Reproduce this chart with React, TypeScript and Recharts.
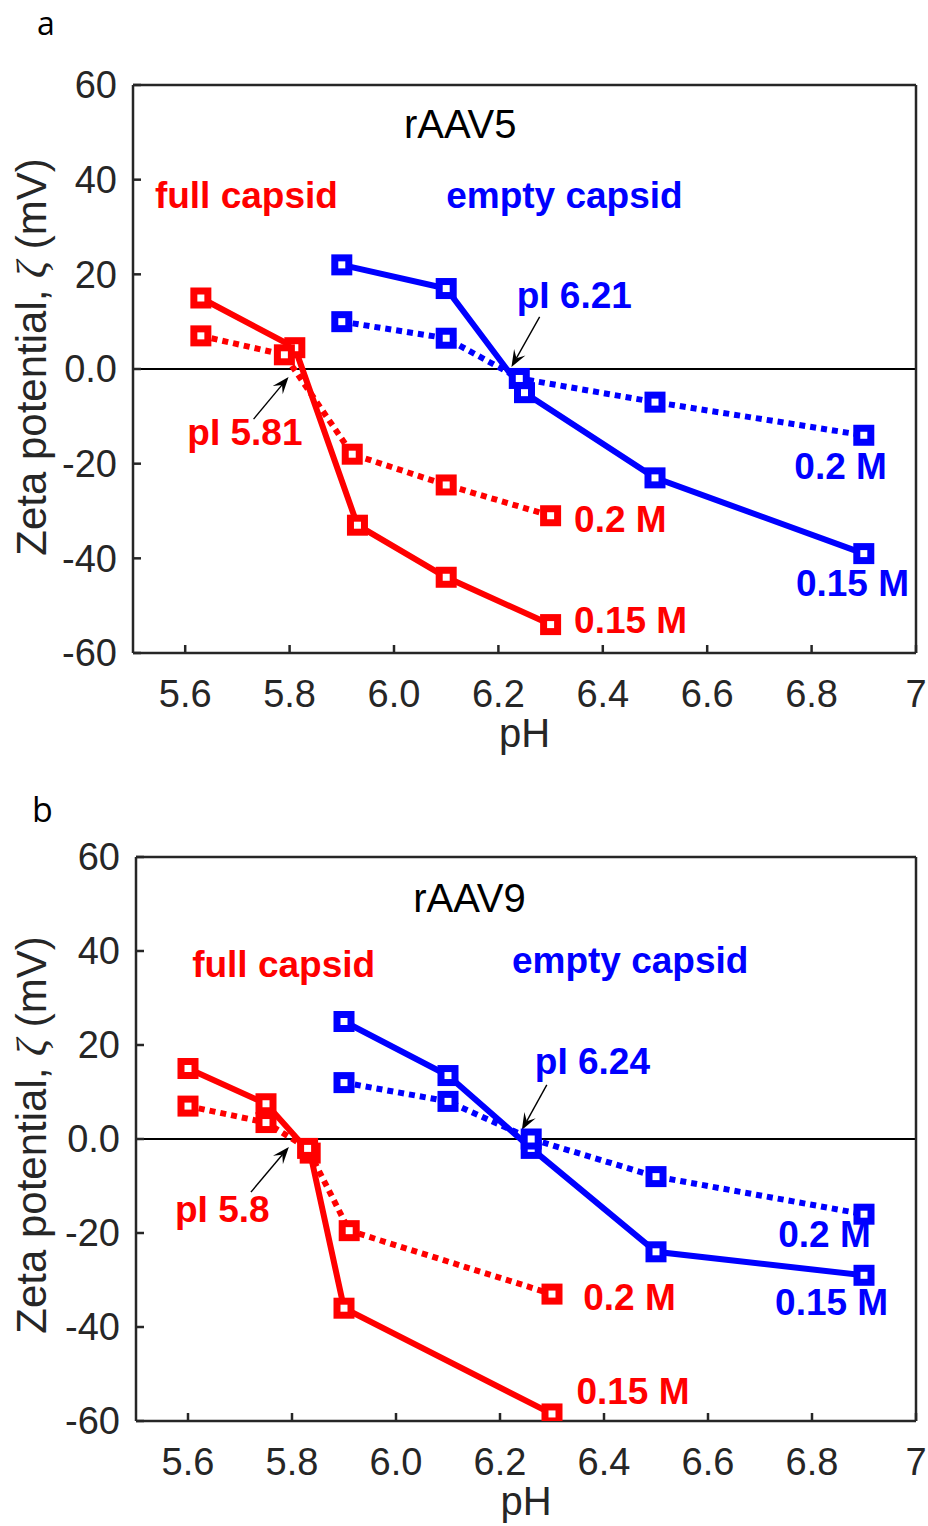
import React from 'react'
import { LineChart, Line, XAxis, YAxis, ReferenceLine, ReferenceDot } from 'recharts'

const RED = '#ff0000'
const BLUE = '#0000ff'
const AXIS = '#262626'
const FONT = '"Liberation Sans", Arial, sans-serif'

const xTicks = [5.6, 5.8, 6.0, 6.2, 6.4, 6.6, 6.8, 7]
const yTicks = [-60, -40, -20, 0, 20, 40, 60]

// panel a, rAAV5
const phA_full015 = [5.63, 5.81, 5.93, 6.1, 6.3]
const zetaA_full015 = [15, 4.5, -33, -44, -54]
const phA_full02 = [5.63, 5.79, 5.92, 6.1, 6.3]
const zetaA_full02 = [7, 3, -18, -24.5, -31]
const phA_empty015 = [5.9, 6.1, 6.25, 6.5, 6.9]
const zetaA_empty015 = [22, 17, -5, -23, -39]
const phA_empty02 = [5.9, 6.1, 6.24, 6.5, 6.9]
const zetaA_empty02 = [10, 6.5, -2, -7, -14]

// panel b, rAAV9
const phB_full015 = [5.6, 5.75, 5.835, 5.9, 6.3]
const zetaB_full015 = [15, 7.5, -3, -36, -58.5]
const phB_full02 = [5.6, 5.75, 5.83, 5.91, 6.3]
const zetaB_full02 = [7, 3.5, -2, -19.5, -33]
const phB_empty015 = [5.9, 6.1, 6.26, 6.5, 6.9]
const zetaB_empty015 = [25, 13.5, -2, -24, -29]
const phB_empty02 = [5.9, 6.1, 6.26, 6.5, 6.9]
const zetaB_empty02 = [12, 8, 0, -8, -16]

// text notes, placed in data coordinates (pH, mV)
const notesA = [
  { text: 'rAAV5', x: 6.019, y: 48.8, color: '#000', bold: false },
  { text: 'full capsid', x: 5.542, y: 34, color: RED, bold: true },
  { text: 'empty capsid', x: 6.1, y: 34, color: BLUE, bold: true },
  { text: 'pI 6.21', x: 6.235, y: 12.9, color: BLUE, bold: true },
  { text: 'pI 5.81', x: 5.604, y: -16.1, color: RED, bold: true },
  { text: '0.2 M', x: 6.345, y: -34.4, color: RED, bold: true },
  { text: '0.15 M', x: 6.345, y: -55.8, color: RED, bold: true },
  { text: '0.2 M', x: 6.767, y: -23.2, color: BLUE, bold: true },
  { text: '0.15 M', x: 6.77, y: -48, color: BLUE, bold: true }
]
const notesB = [
  { text: 'rAAV9', x: 6.033, y: 48.3, color: '#000', bold: false },
  { text: 'full capsid', x: 5.608, y: 34.5, color: RED, bold: true },
  { text: 'empty capsid', x: 6.223, y: 35.3, color: BLUE, bold: true },
  { text: 'pI 6.24', x: 6.267, y: 13.8, color: BLUE, bold: true },
  { text: 'pI 5.8', x: 5.575, y: -17.7, color: RED, bold: true },
  { text: '0.2 M', x: 6.36, y: -36.4, color: RED, bold: true },
  { text: '0.15 M', x: 6.347, y: -56.4, color: RED, bold: true },
  { text: '0.2 M', x: 6.735, y: -23, color: BLUE, bold: true },
  { text: '0.15 M', x: 6.729, y: -37.4, color: BLUE, bold: true }
]

// arrows from label towards the isoelectric point
const arrowsA = [
  { from: [6.279, 11], to: [6.225, 0.4] },
  { from: [5.731, -10.6], to: [5.798, -1.7] }
]
const arrowsB = [
  { from: [6.29, 11.5], to: [6.242, 1.9] },
  { from: [5.721, -11.3], to: [5.794, -1.7] }
]

const toPoints = (xs: number[], ys: number[]) => xs.map((x, i) => ({ x, y: ys[i] }))

const seriesA = [
  { key: 'a-f015', color: RED, dotted: false, data: toPoints(phA_full015, zetaA_full015) },
  { key: 'a-f02', color: RED, dotted: true, data: toPoints(phA_full02, zetaA_full02) },
  { key: 'a-e015', color: BLUE, dotted: false, data: toPoints(phA_empty015, zetaA_empty015) },
  { key: 'a-e02', color: BLUE, dotted: true, data: toPoints(phA_empty02, zetaA_empty02) }
]
const seriesB = [
  { key: 'b-f015', color: RED, dotted: false, data: toPoints(phB_full015, zetaB_full015) },
  { key: 'b-f02', color: RED, dotted: true, data: toPoints(phB_full02, zetaB_full02) },
  { key: 'b-e015', color: BLUE, dotted: false, data: toPoints(phB_empty015, zetaB_empty015) },
  { key: 'b-e02', color: BLUE, dotted: true, data: toPoints(phB_empty02, zetaB_empty02) }
]

const square = (color: string) => (p: any) => (
  <rect
    key={`sq-${p.index}`}
    x={p.cx - 7}
    y={p.cy - 7}
    width={14}
    height={14}
    fill="#fff"
    stroke={color}
    strokeWidth={7}
  />
)

function Arrow(p: any) {
  const { x1, y1, x2, y2 } = p
  const ang = Math.atan2(y2 - y1, x2 - x1)
  const len = 17
  const half = 6.5
  const bx = x2 - len * Math.cos(ang)
  const by = y2 - len * Math.sin(ang)
  const nx = -Math.sin(ang)
  const ny = Math.cos(ang)
  const notchX = x2 - len * 0.6 * Math.cos(ang)
  const notchY = y2 - len * 0.6 * Math.sin(ang)
  const pts = [
    [x2, y2],
    [bx + nx * half, by + ny * half],
    [notchX, notchY],
    [bx - nx * half, by - ny * half]
  ]
  return (
    <g>
      <line x1={x1} y1={y1} x2={notchX} y2={notchY} stroke="#000" strokeWidth={1.4} />
      <polygon points={pts.map((q) => q.join(',')).join(' ')} fill="#000" />
    </g>
  )
}

const xFmt = (v: number) => (v === 7 ? '7' : v.toFixed(1))
const yFmt = (v: number) => (v === 0 ? '0.0' : String(v))

const tickStyle = { fontFamily: FONT, fontSize: 38, fill: AXIS }

interface PanelProps {
  top: number
  height: number
  plotTop: number
  plotBottom: number
  plotLeft: number
  series: typeof seriesA
  notes: typeof notesA
  arrows: typeof arrowsA
  titleShift: number
}

function ZetaPanel({ top, height, plotTop, plotBottom, plotLeft, series, notes, arrows, titleShift }: PanelProps) {
  const xAxisHeight = 60
  return (
    <div style={{ position: 'absolute', left: 0, top, width: 928, height }}>
      <LineChart
        width={928}
        height={height}
        margin={{ top: plotTop - top - 1, right: 11, bottom: height - (plotBottom - top) - xAxisHeight, left: 0 }}
      >
        <XAxis
          type="number"
          dataKey="x"
          domain={[5.5, 7]}
          ticks={xTicks}
          interval={0}
          allowDataOverflow
          height={xAxisHeight}
          tickFormatter={xFmt}
          tick={tickStyle}
          tickSize={-8}
          tickMargin={35}
          axisLine={{ stroke: AXIS, strokeWidth: 2.5 }}
          tickLine={{ stroke: AXIS, strokeWidth: 2.5 }}
          label={{
            content: (lp: any) => {
              const vb = lp.viewBox || {}
              return (
                <text x={vb.x + vb.width / 2} y={vb.y + 94} textAnchor="middle" fontFamily={FONT} fontSize={40} fill={AXIS}>
                  pH
                </text>
              )
            }
          }}
        />
        <XAxis
          xAxisId="top"
          orientation="top"
          type="number"
          domain={[5.5, 7]}
          ticks={xTicks}
          interval={0}
          allowDataOverflow
          height={1}
          tick={false}
          tickSize={-8}
          axisLine={{ stroke: AXIS, strokeWidth: 2.5 }}
          tickLine={{ stroke: AXIS, strokeWidth: 2.5 }}
        />
        <YAxis
          type="number"
          domain={[-60, 60]}
          ticks={yTicks}
          interval={0}
          allowDataOverflow
          width={plotLeft}
          tickFormatter={yFmt}
          tick={tickStyle}
          tickSize={-8}
          tickMargin={24}
          axisLine={{ stroke: AXIS, strokeWidth: 2.5 }}
          tickLine={{ stroke: AXIS, strokeWidth: 2.5 }}
          label={{
            content: (lp: any) => {
              const vb = lp.viewBox || {}
              const cx = 46
              const cy = vb.y + vb.height / 2 + titleShift
              return (
                <text
                  x={cx}
                  y={cy}
                  transform={`rotate(-90 ${cx} ${cy})`}
                  textAnchor="middle"
                  fontFamily={FONT}
                  fontSize={42}
                  fill={AXIS}
                >
                  Zeta potential, <tspan fontStyle="italic" fontFamily='"Liberation Serif", serif'>ζ</tspan> (mV)
                </text>
              )
            }
          }}
        />
        <YAxis
          yAxisId="right"
          orientation="right"
          type="number"
          domain={[-60, 60]}
          ticks={yTicks}
          interval={0}
          allowDataOverflow
          width={1}
          tick={false}
          tickSize={-8}
          axisLine={{ stroke: AXIS, strokeWidth: 2.5 }}
          tickLine={{ stroke: AXIS, strokeWidth: 2.5 }}
        />
        <ReferenceLine y={0} stroke="#000" strokeWidth={2} />
        {series.map((s) => (
          <Line
            key={s.key}
            data={s.data}
            dataKey="y"
            type="linear"
            stroke={s.color}
            strokeWidth={6}
            strokeDasharray={s.dotted ? '6 5' : undefined}
            dot={square(s.color)}
            activeDot={false}
            isAnimationActive={false}
          />
        ))}
        {arrows.map((a, i) => (
          <ReferenceLine
            key={`ar-${i}`}
            segment={[
              { x: a.from[0], y: a.from[1] },
              { x: a.to[0], y: a.to[1] }
            ]}
            ifOverflow="visible"
            shape={(p: any) => <Arrow {...p} />}
          />
        ))}
        {notes.map((n, i) => (
          <ReferenceDot
            key={`nt-${i}`}
            x={n.x}
            y={n.y}
            r={1}
            ifOverflow="visible"
            shape={(p: any) => (
              <text
                x={p.cx}
                y={p.cy}
                fontFamily={FONT}
                fontSize={n.bold ? 37 : 40}
                fontWeight={n.bold ? 'bold' : 'normal'}
                fill={n.color}
              >
                {n.text}
              </text>
            )}
          />
        ))}
      </LineChart>
    </div>
  )
}

export default function App() {
  return (
    <div style={{ position: 'absolute', left: 0, top: 0, width: 928, height: 1526, overflow: 'hidden', background: '#fff' }}>
      <ZetaPanel
        top={0}
        height={770}
        plotTop={85}
        plotBottom={653}
        plotLeft={133}
        series={seriesA}
        notes={notesA}
        arrows={arrowsA}
        titleShift={-12}
      />
      <ZetaPanel
        top={770}
        height={756}
        plotTop={857}
        plotBottom={1421}
        plotLeft={136}
        series={seriesB}
        notes={notesB}
        arrows={arrowsB}
        titleShift={-4}
      />
      <svg width={928} height={1526} style={{ position: 'absolute', left: 0, top: 0, pointerEvents: 'none' }}>
        <text x={37} y={35} fontFamily='"Open Sans", sans-serif' fontSize={32} fill="#000">
          a
        </text>
        <text x={32} y={822} fontFamily='"Open Sans", sans-serif' fontSize={34} fill="#000">
          b
        </text>
      </svg>
    </div>
  )
}
